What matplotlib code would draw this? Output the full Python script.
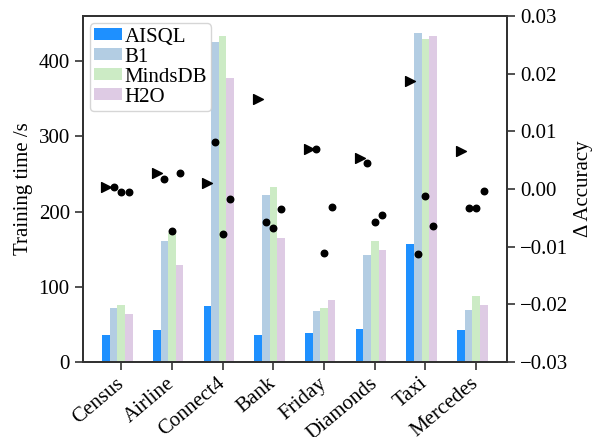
import numpy as np
import matplotlib
matplotlib.use("Agg")
import matplotlib.pyplot as plt

plt.rcParams["font.family"] = ["Liberation Serif", "DejaVu Serif"]
plt.rcParams["font.size"] = 15

datasets = ["Census", "Airline", "Connect4", "Bank", "Friday", "Diamonds", "Taxi", "Mercedes"]
systems = ["AISQL", "B1", "MindsDB", "H2O"]
colors = ["#1E90FF", "#b3cde3", "#ccebc5", "#decbe4"]

# training time (s)
time_aisql = [36, 42, 74, 36, 39, 44, 157, 42]
time_b1 = [72, 161, 426, 222, 67, 142, 437, 69]
time_mindsdb = [76, 171, 433, 232, 72, 161, 430, 88]
time_h2o = [64, 129, 378, 165, 82, 149, 433, 76]

# delta accuracy
acc_aisql = [0.0004, 0.0027, 0.0011, 0.0157, 0.0069, 0.0053, 0.0187, 0.0066]
acc_b1 = [0.0004, 0.0017, 0.0082, -0.0058, 0.0069, 0.0045, -0.0113, -0.0033]
acc_mindsdb = [-0.0006, -0.0073, -0.0078, -0.0068, -0.0111, -0.0057, -0.0013, -0.0033]
acc_h2o = [-0.0006, 0.0027, -0.0018, -0.0035, -0.0031, -0.0045, -0.0064, -0.0003]

times = [time_aisql, time_b1, time_mindsdb, time_h2o]
accs = [acc_aisql, acc_b1, acc_mindsdb, acc_h2o]
offsets = [-0.3, -0.15, 0.0, 0.15]
width = 0.15
x = np.arange(len(datasets))

fig, ax = plt.subplots(figsize=(5.97, 4.37), dpi=100)
fig.subplots_adjust(left=0.139, right=0.849, top=0.963, bottom=0.172)

for t, off, c, name in zip(times, offsets, colors, systems):
    ax.bar(x + off, t, width, color=c, label=name)

ax.set_ylabel("Training time /s")
ax.set_ylim(0, 460)
ax.set_yticks([0, 100, 200, 300, 400])
ax.set_xticks(x)
ax.set_xticklabels(datasets, rotation=40, ha="right", va="center", rotation_mode="anchor")
ax.legend(loc="upper left", handlelength=1.3, handleheight=0.5, borderpad=0.2,
          labelspacing=0.05, handletextpad=0.15, borderaxespad=0.35)

ax2 = ax.twinx()
ax2.scatter(x + offsets[0], acc_aisql, marker=">", s=50, color="black", zorder=3)
for a, off in zip(accs[1:], offsets[1:]):
    ax2.scatter(x + off, a, marker="o", s=22, color="black", zorder=3)
ax2.set_ylim(-0.03, 0.03)
ticks2 = [-0.03, -0.02, -0.01, 0.0, 0.01, 0.02, 0.03]
ax2.set_yticks(ticks2)
ax2.set_yticklabels([f"{v:.2f}".replace("-", "\u2212") for v in ticks2])
ax2.set_ylabel("Δ Accuracy")

for a in (ax, ax2):
    for sp in a.spines.values():
        sp.set_color("#333333")
        sp.set_linewidth(1.4)
    a.tick_params(length=6, width=1.2, color="#333333")
ax.tick_params(axis="x", pad=8)

fig.savefig("out.png", dpi=100)
